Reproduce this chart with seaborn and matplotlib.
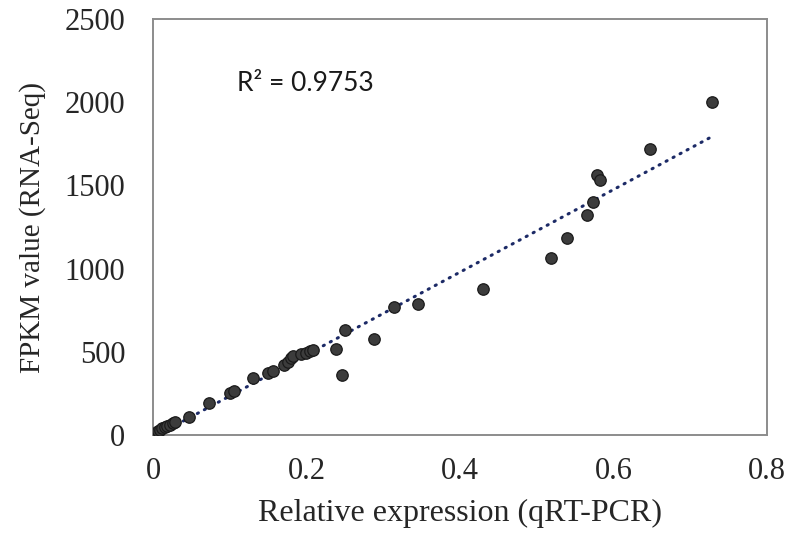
import numpy as np
import pandas as pd
import matplotlib
matplotlib.use("Agg")
import matplotlib.pyplot as plt
import seaborn as sns

# qRT-PCR relative expression vs RNA-Seq FPKM
qpcr = [0.003, 0.006, 0.009, 0.012, 0.015, 0.018, 0.022, 0.026, 0.029,
        0.047, 0.073, 0.100, 0.106, 0.130, 0.150, 0.156, 0.171, 0.176,
        0.180, 0.182, 0.193, 0.199, 0.205, 0.209, 0.238, 0.246, 0.250,
        0.288, 0.314, 0.345, 0.430, 0.518, 0.539, 0.565, 0.573, 0.578,
        0.582, 0.648, 0.729]
fpkm = [12, 22, 32, 40, 48, 55, 62, 70, 78,
        108, 192, 250, 262, 345, 372, 386, 420, 438,
        465, 472, 484, 494, 505, 512, 515, 362, 632,
        580, 772, 790, 875, 1065, 1185, 1325, 1400, 1565,
        1530, 1720, 2000]
r2_label = "R\u00b2 = 0.9753"

df = pd.DataFrame({"qpcr": qpcr, "fpkm": fpkm})

sns.set_style("white")
plt.rcParams["font.family"] = ["Liberation Serif", "DejaVu Serif"]

fig = plt.figure(figsize=(7.86, 5.40), dpi=100)
ax = fig.add_axes([0.1947, 0.1944, 0.7811, 0.7704])

# dotted linear trend line
sns.regplot(data=df, x="qpcr", y="fpkm", ax=ax, scatter=False, ci=None,
            line_kws=dict(color="#1c2a66", lw=2.2, linestyle=(0, (0.4, 2.2)),
                          dash_capstyle="round"))
sns.scatterplot(data=df, x="qpcr", y="fpkm", ax=ax, s=68, color="#3c3c3c",
                edgecolor="#1a1a1a", linewidth=0.9, zorder=3)

ax.set_xlim(0, 0.8)
ax.set_ylim(0, 2500)
ax.set_xticks([0, 0.2, 0.4, 0.6, 0.8])
ax.set_xticklabels(["0", "0.2", "0.4", "0.6", "0.8"])
ax.set_yticks([0, 500, 1000, 1500, 2000, 2500])
ax.tick_params(axis="both", length=0, labelsize=22)
ax.tick_params(axis="y", pad=20)
ax.tick_params(axis="x", pad=16)

ax.set_xlabel("Relative expression (qRT-PCR)", fontsize=23, labelpad=9)
ax.set_ylabel("FPKM value (RNA-Seq)", fontsize=21, labelpad=13)

for sp in ax.spines.values():
    sp.set_visible(True)
    sp.set_color("#8c8c8c")
    sp.set_linewidth(1.4)

ax.text(0.109, 2110, r2_label, fontsize=19, va="center", ha="left",
        family=["Lato", "DejaVu Sans"], color="#1a1a1a")

fig.savefig("out.png", dpi=100)
